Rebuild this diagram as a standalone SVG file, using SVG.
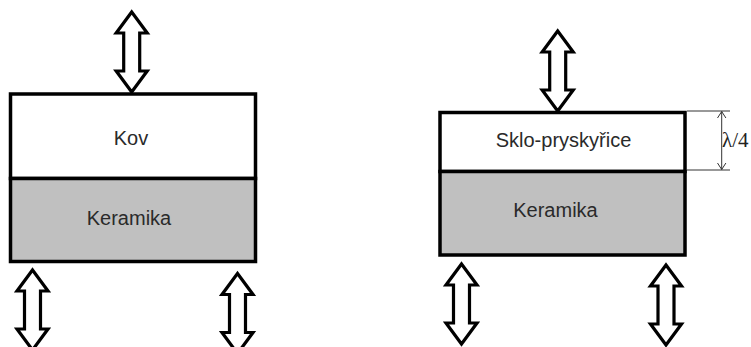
<svg xmlns="http://www.w3.org/2000/svg" xmlns:xlink="http://www.w3.org/1999/xlink" width="751" height="347" viewBox="0 0 751 347">
  <style>
    .box { stroke: #000; stroke-width: 3.5; }
    .white { fill: #ffffff; }
    .gray { fill: #c0c0c0; }
    .lbl { font-family: "Liberation Sans", Arial, sans-serif; font-size: 20px; fill: #2a2a2a; text-anchor: middle; }
    .dim { stroke: #333; stroke-width: 1; fill: none; }
    .dimtxt { font-family: "Liberation Serif", "Times New Roman", serif; font-size: 21px; fill: #222; }
    .arrow { fill: #ffffff; stroke: #000; stroke-width: 3.2; stroke-linejoin: miter; }
  </style>
  <defs>
    <path id="dblarrow" class="arrow" d="M0,0 L15.5,21 L8,21 L8,59 L15.5,59 L0,80 L-15.5,59 L-8,59 L-8,21 L-15.5,21 Z"/>
  </defs>
  <rect width="751" height="347" fill="#ffffff"/>

  <g id="left-kov">
    <rect class="box white" x="10.5" y="94" width="245" height="84.5"/>
    <text class="lbl" x="131" y="145">Kov</text>
  </g>
  <g id="left-keramika">
    <rect class="box gray" x="10.5" y="178.5" width="245" height="83"/>
    <text class="lbl" x="129" y="225">Keramika</text>
  </g>

  <g id="right-sklo">
    <rect class="box white" x="440" y="112.5" width="245" height="59"/>
    <text class="lbl" x="563.5" y="147">Sklo-pryskyřice</text>
  </g>
  <g id="right-keramika">
    <rect class="box gray" x="440" y="171.5" width="245" height="83.5"/>
    <text class="lbl" x="555.5" y="217">Keramika</text>
  </g>

  <g id="connectors">
    <use xlink:href="#dblarrow" href="#dblarrow" transform="translate(131.7,12)"/>
    <use xlink:href="#dblarrow" href="#dblarrow" transform="translate(32.5,270)"/>
    <use xlink:href="#dblarrow" href="#dblarrow" transform="translate(237.5,273.5)"/>
    <use xlink:href="#dblarrow" href="#dblarrow" transform="translate(557.7,31)"/>
    <use xlink:href="#dblarrow" href="#dblarrow" transform="translate(461.5,264)"/>
    <use xlink:href="#dblarrow" href="#dblarrow" transform="translate(666,265)"/>
  </g>

  <g id="dimension">
    <line class="dim" x1="687" y1="111" x2="730" y2="111"/>
    <line class="dim" x1="687" y1="170" x2="730" y2="170"/>
    <line class="dim" x1="721.7" y1="111.5" x2="721.7" y2="169.5"/>
    <polyline class="dim" points="717.5,118 721.7,111.5 725.9,118"/>
    <polyline class="dim" points="717.5,163 721.7,169.5 725.9,163"/>
    <text class="dimtxt" x="722" y="147">λ/4</text>
  </g>
</svg>
